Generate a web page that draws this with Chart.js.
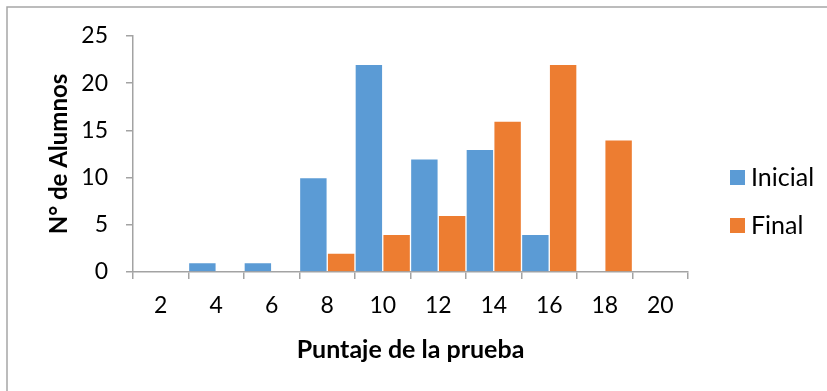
<!DOCTYPE html>
<html lang="es">
<head>
<meta charset="utf-8">
<title>Puntaje de la prueba</title>
<script src="https://cdn.jsdelivr.net/npm/chart.js@4.4.1/dist/chart.umd.min.js"></script>
<style>
  html, body { margin: 0; padding: 0; background: #ffffff; }
  canvas { display: block; }
</style>
</head>
<body>
<canvas id="chart" width="827" height="391"></canvas>
<script>
// Score buckets on the horizontal axis
const categories = ['2', '4', '6', '8', '10', '12', '14', '16', '18', '20'];
// Number of students per score, before and after
const inicialValues = [0, 1, 1, 10, 22, 12, 13, 4, 0, 0];
const finalValues = [0, 0, 0, 2, 4, 6, 16, 22, 14, 0];
// Series names
const seriesNames = ['Inicial', 'Final'];
// Vertical axis range
const yMin = 0;
const yMax = 25;
const yStep = 5;

const FONT = 'Lato, "Open Sans", "Liberation Sans", sans-serif';
const AXIS_GREY = '#a3a3a3';
const BLUE = '#5b9bd5';
const ORANGE = '#ed7d31';

// Outer frame around the whole chart
const framePlugin = {
  id: 'frame',
  beforeDraw(chart) {
    const ctx = chart.ctx;
    ctx.save();
    ctx.strokeStyle = '#a6a6a6';
    ctx.lineWidth = 1.5;
    ctx.strokeRect(7, 7, chart.width + 20, chart.height + 20);
    ctx.restore();
  }
};

// Legend column on the right, built from the datasets
const sideLegend = {
  id: 'sideLegend',
  afterDraw(chart) {
    const ctx = chart.ctx;
    const x = 730, box = 15;
    const rows = [170, 218];
    ctx.save();
    ctx.font = '25px ' + FONT;
    ctx.textAlign = 'left';
    ctx.textBaseline = 'alphabetic';
    chart.data.datasets.forEach((ds, i) => {
      const y = rows[i];
      ctx.fillStyle = ds.backgroundColor;
      ctx.fillRect(x, y, box, box);
      ctx.fillStyle = '#000000';
      ctx.fillText(ds.label, x + 21, y + box + 1);
    });
    ctx.restore();
  }
};

new Chart(document.getElementById('chart'), {
  type: 'bar',
  data: {
    labels: categories,
    datasets: [
      {
        label: seriesNames[0],
        data: inicialValues,
        backgroundColor: BLUE,
        borderColor: 'rgba(255,255,255,0.3)',
        borderWidth: 1,
        borderSkipped: 'bottom'
      },
      {
        label: seriesNames[1],
        data: finalValues,
        backgroundColor: ORANGE,
        borderColor: 'rgba(255,255,255,0.3)',
        borderWidth: 1,
        borderSkipped: 'bottom'
      }
    ]
  },
  options: {
    responsive: false,
    animation: false,
    devicePixelRatio: 1,
    layout: { padding: { left: 0, right: 139, top: 36, bottom: 0 } },
    datasets: {
      bar: { categoryPercentage: 1, barPercentage: 1 }
    },
    plugins: {
      legend: { display: false },
      tooltip: { enabled: false }
    },
    scales: {
      x: {
        type: 'category',
        offset: true,
        afterFit(scale) { scale.height = 119; },
        grid: {
          offset: true,
          drawOnChartArea: false,
          drawTicks: true,
          tickLength: 7,
          color: AXIS_GREY,
          lineWidth: 1.5
        },
        border: { display: true, color: AXIS_GREY, width: 1.5 },
        ticks: {
          color: '#000000',
          padding: 13,
          maxRotation: 0,
          font: { family: FONT, size: 23 }
        },
        title: {
          display: true,
          text: 'Puntaje de la prueba',
          color: '#000000',
          padding: { top: 0, bottom: 26 },
          font: { family: FONT, size: 25, weight: 'bold' }
        }
      },
      y: {
        min: yMin,
        max: yMax,
        afterFit(scale) { scale.width = 133; },
        grid: {
          drawOnChartArea: false,
          drawTicks: true,
          tickLength: 7,
          color: AXIS_GREY,
          lineWidth: 1.5
        },
        border: { display: true, color: AXIS_GREY, width: 1.5 },
        ticks: {
          stepSize: yStep,
          color: '#000000',
          padding: 18,
          font: { family: FONT, size: 23 }
        },
        title: {
          display: true,
          text: 'N° de Alumnos',
          color: '#000000',
          padding: { top: 45, bottom: 0 },
          font: { family: FONT, size: 24, weight: 'bold' }
        }
      }
    }
  },
  plugins: [framePlugin, sideLegend]
});
</script>
</body>
</html>
